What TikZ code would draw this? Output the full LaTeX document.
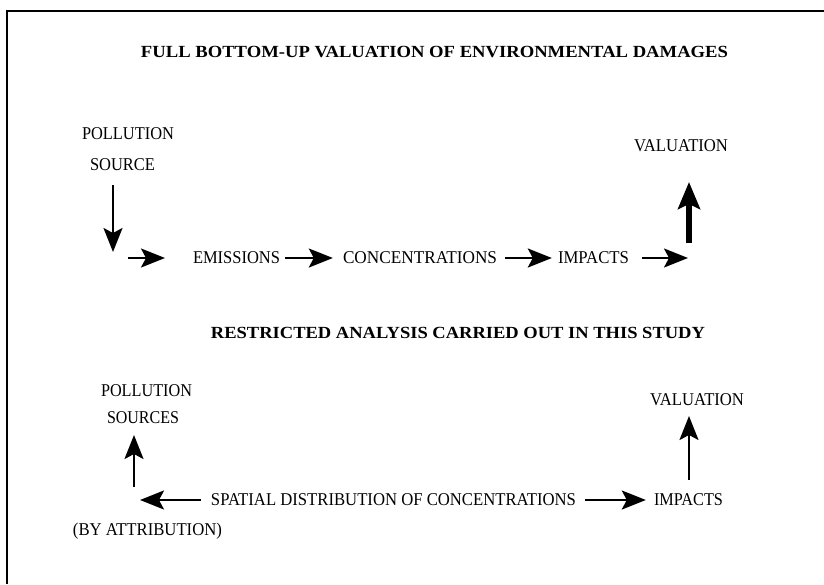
\documentclass[tikz,border=0pt]{standalone}
\usepackage{fontspec}
\setmainfont{Liberation Serif}
\usepackage{graphicx}
\usetikzlibrary{arrows.meta}
\newcommand{\fw}[2]{\resizebox{#1pt}{\height}{#2}}
\begin{document}
\begin{tikzpicture}[x=1pt,y=-1pt,
  lbl/.style={inner sep=0pt, font=\fontsize{18}{21}\selectfont},
  ttl/.style={inner sep=0pt, font=\fontsize{17}{20}\selectfont\bfseries},
  conn/.style={line width=2.2pt, -{Stealth[length=24pt,width=19pt,inset=5pt]}},
  thickconn/.style={line width=6pt, -{Stealth[length=27pt,width=22pt,inset=5pt]}}]
\useasboundingbox (0,0) rectangle (824,584);
\draw[line width=2pt] (7,584) -- (7,11) -- (824,11);

% top section
\node[ttl] (t1) at (434.5,52) {\fw{587}{FULL BOTTOM-UP VALUATION OF ENVIRONMENTAL DAMAGES}};
\node[lbl] (src1a) at (128,134) {\fw{92}{POLLUTION}};
\node[lbl] (src1b) at (122.5,165) {\fw{65}{SOURCE}};
\node[lbl] (em) at (236.5,258) {\fw{87}{EMISSIONS}};
\node[lbl] (conc) at (420,258) {\fw{154}{CONCENTRATIONS}};
\node[lbl] (imp1) at (593.5,258) {\fw{71}{IMPACTS}};
\node[lbl] (val1) at (681,146) {\fw{94}{VALUATION}};

\coordinate (d1s) at (113,185);
\coordinate (d1e) at (113,252);
\coordinate (r1s) at (128,258);
\coordinate (r1e) at (165,258);
\coordinate (r4e) at (688,258);
\coordinate (u1s) at (689,243);
\coordinate (u1e) at (689,182);

\draw[conn] (d1s) -- (d1e);
\draw[conn] (r1s) -- (r1e);
\draw[conn] ([xshift=5pt]em.east) -- ([xshift=-10pt]conc.west);
\draw[conn] ([xshift=8pt]conc.east) -- ([xshift=-6pt]imp1.west);
\draw[conn] ([xshift=13pt]imp1.east) -- (r4e);
\draw[thickconn] (u1s) -- (u1e);

% bottom section
\node[ttl] (t2) at (458,333) {\fw{494}{RESTRICTED ANALYSIS CARRIED OUT IN THIS STUDY}};
\node[lbl] (src2a) at (146.5,391) {\fw{91}{POLLUTION}};
\node[lbl] (src2b) at (143,418) {\fw{72}{SOURCES}};
\node[lbl] (sp) at (393.5,500) {\fw{365}{SPATIAL DISTRIBUTION OF CONCENTRATIONS}};
\node[lbl] (imp2) at (688.5,500) {\fw{69}{IMPACTS}};
\node[lbl] (val2) at (697,400) {\fw{94}{VALUATION}};
\node[lbl, anchor=base] (attr) at (147.5,535) {\fw{149}{(BY ATTRIBUTION)}};

\coordinate (u2s) at (134,487);
\coordinate (u2e) at (134,435);
\coordinate (l2e) at (140,500);
\coordinate (u3s) at (689,480);
\coordinate (u3e) at (689,416);

\draw[conn] (u2s) -- (u2e);
\draw[conn] ([xshift=-10pt]sp.west) -- (l2e);
\draw[conn] ([xshift=9pt]sp.east) -- ([xshift=-8pt]imp2.west);
\draw[conn] (u3s) -- (u3e);
\end{tikzpicture}
\end{document}
